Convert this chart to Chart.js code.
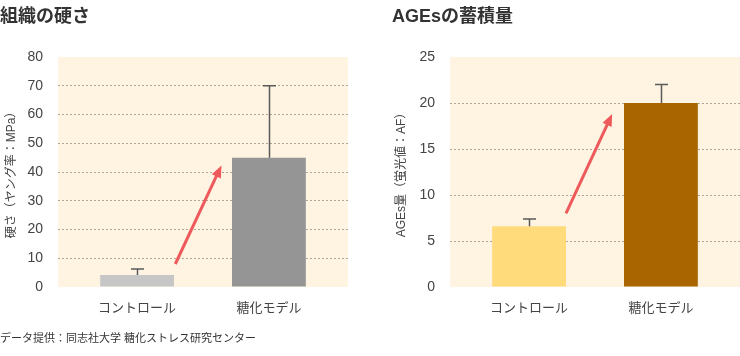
<!DOCTYPE html>
<html><head><meta charset="utf-8">
<script src="https://cdn.jsdelivr.net/npm/chart.js@4/dist/chart.umd.min.js"></script>
<style>
html,body{margin:0;padding:0;background:#fff;width:740px;height:356px;overflow:hidden}
body{position:relative}
#c1{position:absolute;left:0;top:0}
#c2{position:absolute;left:392px;top:0}
#foot{position:absolute;left:0;top:331px;font-size:11px;font-family:'Liberation Sans','Noto Sans CJK JP',sans-serif;color:#333;white-space:nowrap;line-height:14px}
</style></head><body>
<canvas id="c1" width="370" height="356"></canvas>
<canvas id="c2" width="348" height="356"></canvas>
<div id="foot">データ提供：同志社大学 糖化ストレス研究センター</div>
<script>
// ---- data ----
const categories = ['コントロール', '糖化モデル'];
const hardnessTitle = '組織の硬さ';
const hardnessAxisTitle = '硬さ（ヤング率：MPa）';
const hardnessValues = [4.2, 45];
const hardnessErrTop = [6.3, 70];
const hardnessTicks = [0, 10, 20, 30, 40, 50, 60, 70, 80];
const hardnessColors = ['#c6c6c6', '#959595'];
const hardnessArrowFrom = [0.29, 8];
const hardnessArrowTo = [0.64, 42.3];

const agesTitle = 'AGEsの蓄積量';
const agesAxisTitle = 'AGEs量（蛍光値：AF）';
const agesValues = [6.6, 20];
const agesErrTop = [7.4, 22];
const agesTicks = [0, 5, 10, 15, 20, 25];
const agesColors = ['#ffdb7b', '#a86500'];
const agesArrowFrom = [0.28, 8];
const agesArrowTo = [0.63, 18.8];

const FONT = "'Liberation Sans','Noto Sans CJK JP',sans-serif";

const decor = {
  id: 'decor',
  beforeDraw(chart) {
    const a = chart.chartArea, ctx = chart.ctx;
    ctx.save();
    ctx.fillStyle = '#fef4e1';
    ctx.fillRect(a.left, a.top, a.right - a.left, a.bottom - a.top);
    ctx.restore();
  },
  afterDatasetsDraw(chart, args, opts) {
    const ctx = chart.ctx, ys = chart.scales.y, xs = chart.scales.x;
    const meta = chart.getDatasetMeta(0);
    ctx.save();
    ctx.strokeStyle = '#5a5a5a';
    ctx.lineWidth = 1.5;
    opts.err.forEach((e, i) => {
      const bar = meta.data[i];
      const x = Math.round(bar.x) + 0.5;
      const yTop = ys.getPixelForValue(e);
      ctx.beginPath();
      ctx.moveTo(x, bar.y);
      ctx.lineTo(x, yTop);
      ctx.moveTo(x - 6.5, yTop);
      ctx.lineTo(x + 6.5, yTop);
      ctx.stroke();
    });
    // arrow
    const x0 = xs.getPixelForValue(opts.from[0]), y0 = ys.getPixelForValue(opts.from[1]);
    const x1 = xs.getPixelForValue(opts.to[0]), y1 = ys.getPixelForValue(opts.to[1]);
    const ang = Math.atan2(y1 - y0, x1 - x0);
    const hl = 12, hw = 5;
    const bx = x1 - hl * Math.cos(ang), by = y1 - hl * Math.sin(ang);
    ctx.strokeStyle = '#ee5a5c';
    ctx.fillStyle = '#ee5a5c';
    ctx.lineWidth = 3;
    ctx.beginPath();
    ctx.moveTo(x0, y0);
    ctx.lineTo(bx + 2 * Math.cos(ang), by + 2 * Math.sin(ang));
    ctx.stroke();
    ctx.beginPath();
    ctx.moveTo(x1, y1);
    ctx.lineTo(bx + hw * Math.sin(ang), by - hw * Math.cos(ang));
    ctx.lineTo(bx - hw * Math.sin(ang), by + hw * Math.cos(ang));
    ctx.closePath();
    ctx.fill();
    ctx.restore();
  }
};

function makeChart(id, title, axisTitle, values, err, ticks, colors, from, to, rightPad, titlePad) {
  const maxV = ticks[ticks.length - 1];
  return new Chart(document.getElementById(id), {
    type: 'bar',
    data: {
      datasets: [{
        data: values.map((v, i) => ({ x: i, y: v })),
        backgroundColor: colors,
        borderWidth: 0,
        barPercentage: 0.56,
        categoryPercentage: 1
      }]
    },
    plugins: [decor],
    options: {
      responsive: false,
      animation: false,
      devicePixelRatio: 1,
      layout: { padding: { left: 0, right: rightPad, top: 0, bottom: 0 } },
      plugins: {
        legend: { display: false },
        tooltip: { enabled: false },
        title: {
          display: true, text: title, align: 'start', color: '#333',
          font: { family: FONT, size: 18, weight: 'bold', lineHeight: 1.2 },
          padding: { top: 6, bottom: 29.4 }
        },
        decor: { err: err, from: from, to: to }
      },
      scales: {
        x: {
          type: 'linear', min: -0.6, max: 1.6, offset: false,
          afterBuildTicks: s => { s.ticks = categories.map((c, i) => ({ value: i })); },
          afterFit: s => { s.height = 69; },
          ticks: { callback: v => categories[v], color: '#444', padding: 14, maxRotation: 0, autoSkip: false,
                   font: { family: FONT, size: 13, lineHeight: 1.2 } },
          grid: { display: false, drawTicks: false },
          border: { display: false }
        },
        y: {
          min: 0, max: maxV,
          afterBuildTicks: s => { s.ticks = ticks.map(v => ({ value: v })); },
          afterFit: s => { s.width = 58; },
          ticks: { color: '#444', padding: 15, font: { family: FONT, size: 14 } },
          grid: {
            drawTicks: false, lineWidth: 1,
            color: c => (c.tick && (c.tick.value === 0 || c.tick.value === maxV)) ? 'rgba(0,0,0,0)' : '#aea596'
          },
          border: { display: false, dash: [2, 2] },
          title: { display: true, text: axisTitle, color: '#444', padding: { top: titlePad, bottom: 0 },
                   font: { family: FONT, size: 12, lineHeight: 1.2 } }
        }
      }
    }
  });
}

makeChart('c1', hardnessTitle, hardnessAxisTitle, hardnessValues, hardnessErrTop, hardnessTicks, hardnessColors, hardnessArrowFrom, hardnessArrowTo, 22, 4);
makeChart('c2', agesTitle, agesAxisTitle, agesValues, agesErrTop, agesTicks, agesColors, agesArrowFrom, agesArrowTo, 0, 2);
</script>
</body></html>
